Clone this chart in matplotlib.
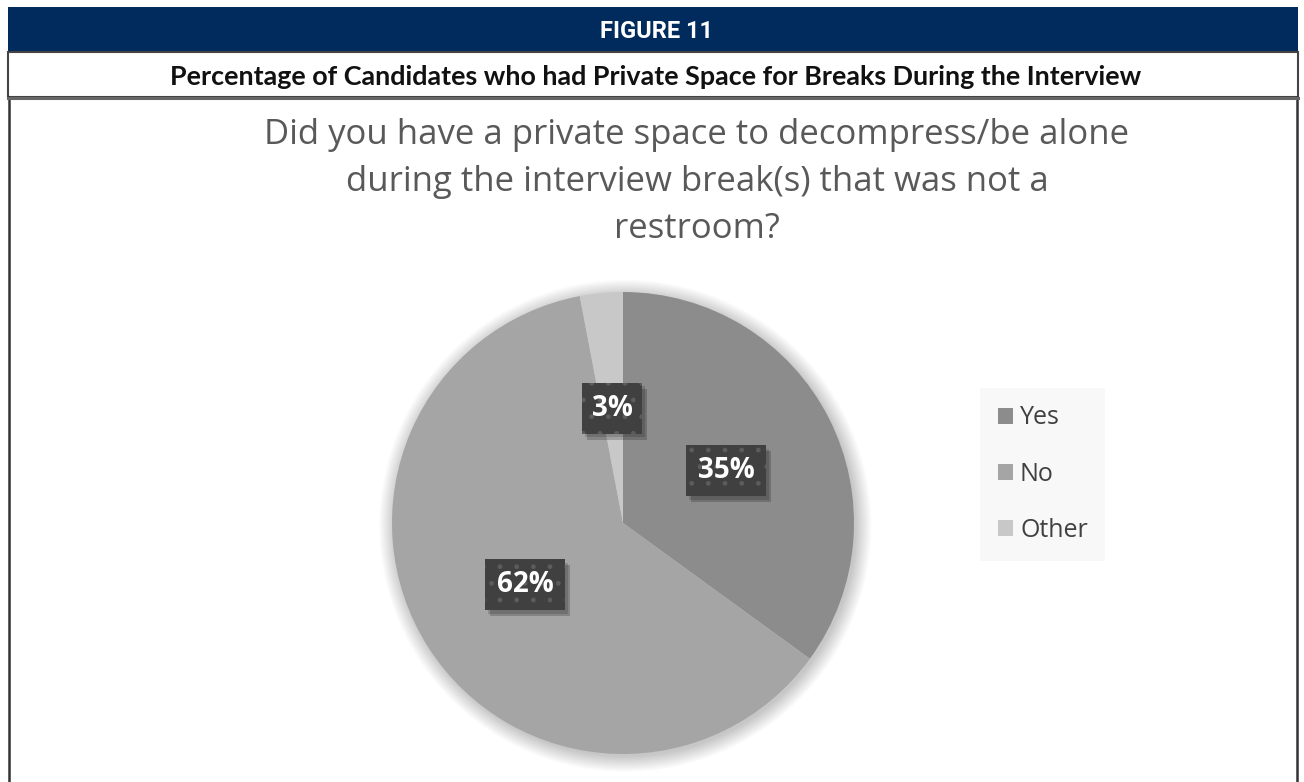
import matplotlib.pyplot as plt
from matplotlib.patches import Rectangle, Circle
from matplotlib import transforms

labels = ["Yes", "No", "Other"]
shares = [35, 62, 3]
colors = ["#8c8c8c", "#a5a5a5", "#c8c8c8"]

fig_title = "FIGURE 11"
subtitle = "Percentage of Candidates who had Private Space for Breaks During the Interview"
question = ("Did you have a private space to decompress/be alone\n"
            "during the interview break(s) that was not a\nrestroom?")

W, H = 1304, 782
fig = plt.figure(figsize=(W / 100, H / 100), dpi=100)
fig.patch.set_facecolor("white")


def fx(px):
    return px / W


def fy(py):
    return 1 - py / H


# header band and frame
fig.patches.append(Rectangle((fx(8), fy(52)), fx(1290), 45 / H, transform=fig.transFigure,
                             facecolor="#022b5d", edgecolor="none"))
fig.patches.append(Rectangle((fx(8), fy(97)), fx(1290), 45 / H, transform=fig.transFigure,
                             facecolor="none", edgecolor="#444444", linewidth=1.5))
fig.lines.append(plt.Line2D([fx(9), fx(9)], [fy(97), 0], transform=fig.transFigure,
                            color="#333333", linewidth=1.8))
fig.lines.append(plt.Line2D([fx(1297), fx(1297)], [fy(97), 0], transform=fig.transFigure,
                            color="#333333", linewidth=1.8))
fig.lines.append(plt.Line2D([fx(8), fx(1298)], [fy(97.5), fy(97.5)], transform=fig.transFigure,
                            color="#666666", linewidth=2.2))

fig.text(fx(656), fy(31), fig_title, ha="center", va="center", color="white",
         fontsize=17, fontweight="bold", family="Roboto")
fig.text(fx(656), fy(77), subtitle, ha="center", va="center", color="#111111",
         fontsize=19.4, fontweight="bold", family="Lato")
fig.text(fx(697), fy(182), question, ha="center", va="center", color="#595959",
         fontsize=25, family="Open Sans", linespacing=1.5)

# pie
r_px = 231
cx, cy = 623, 523
pad = 1.08
ax = fig.add_axes([fx(cx - r_px * pad), 1 - (cy + r_px * pad) / H,
                   2 * r_px * pad / W, 2 * r_px * pad / H])

wedges, texts, autotexts = ax.pie(shares, colors=colors, startangle=90, counterclock=False,
                                  autopct="%d%%", pctdistance=0.5, radius=1.0,
                                  wedgeprops=dict(linewidth=0))
ax.set_xlim(-pad, pad)
ax.set_ylim(-pad, pad)
ax.axis("off")

# soft shadow behind the pie
for k in range(14):
    ax.add_patch(Circle((0.01, -0.012), 1.0 + k * 0.005, facecolor="black",
                        alpha=0.016, edgecolor="none", zorder=0))
for w in wedges:
    w.set_zorder(1)

# dark value boxes with a drop shadow, sized in pixels around each label
for t in autotexts:
    x, y = t.get_position()
    bw, bh = (20 * len(t.get_text()) + 20) / 100, 51 / 100
    anchor = fig.dpi_scale_trans + transforms.ScaledTranslation(x, y, ax.transData)
    ax.add_patch(Rectangle((-bw / 2 + 0.05, -bh / 2 - 0.06), bw, bh, transform=anchor,
                           facecolor="black", alpha=0.2, edgecolor="none", zorder=2))
    ax.add_patch(Rectangle((-bw / 2 + 0.03, -bh / 2 - 0.035), bw, bh, transform=anchor,
                           facecolor="black", alpha=0.15, edgecolor="none", zorder=2))
    ax.add_patch(Rectangle((-bw / 2, -bh / 2), bw, bh, transform=anchor,
                           facecolor="#404040", edgecolor="#5c5c5c", hatch=".",
                           linewidth=0, zorder=3))
    t.set_color("white")
    t.set_fontsize(20)
    t.set_fontweight("bold")
    t.set_family("Open Sans")
    t.set_zorder(4)

# legend
handles = [Rectangle((0, 0), 1, 1, facecolor=c, edgecolor="none") for c in colors]
leg = fig.legend(handles, labels, loc="upper left", bbox_to_anchor=(fx(980), fy(388)),
                 borderaxespad=0, frameon=True, fancybox=False,
                 handlelength=0.6, handleheight=0.6, handletextpad=0.3,
                 labelspacing=1.25, borderpad=0.7,
                 prop=dict(family="Open Sans", size=18))
leg.get_frame().set_facecolor("#f7f7f7")
leg.get_frame().set_edgecolor("none")
for txt in leg.get_texts():
    txt.set_color("#404040")

fig.savefig("out.png", dpi=100)
